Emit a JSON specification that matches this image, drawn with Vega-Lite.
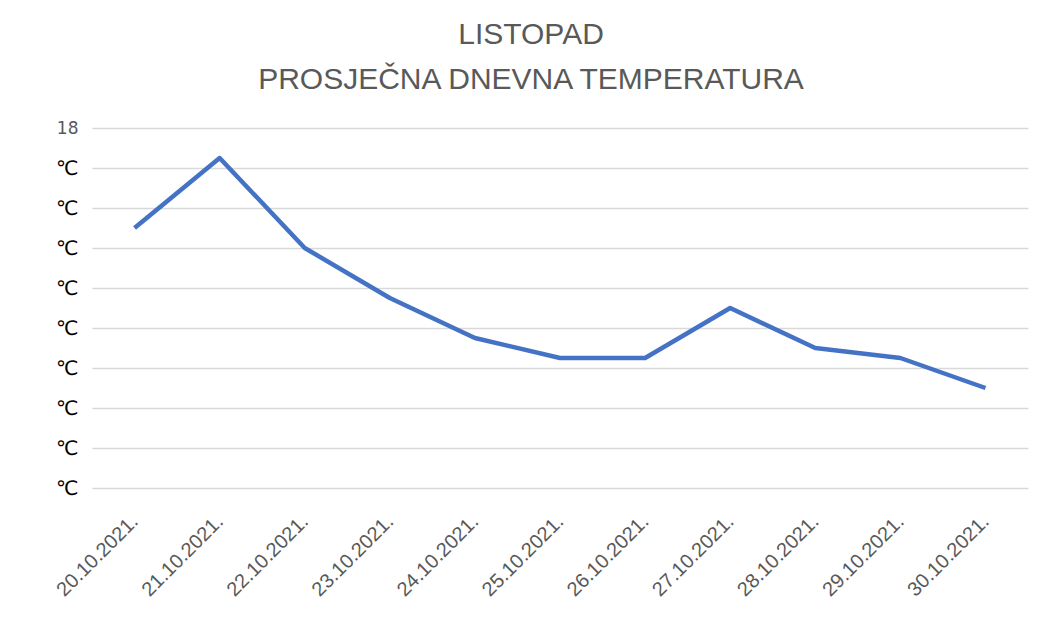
{
  "$schema": "https://vega.github.io/schema/vega-lite/v6.json",
  "autosize": "none",
  "width": 936,
  "height": 360,
  "padding": {"left": 92, "top": 128, "right": 12, "bottom": 139},
  "background": "white",
  "title": {
    "text": ["LISTOPAD", "PROSJEČNA DNEVNA TEMPERATURA"],
    "font": "Liberation Sans",
    "fontSize": 30,
    "fontWeight": "normal",
    "color": "#595959",
    "anchor": "middle",
    "dx": -29,
    "offset": 24,
    "lineHeight": 45
  },
  "data": {
    "values": [
      {"datum": "20.10.2021.", "t": 13.0},
      {"datum": "21.10.2021.", "t": 16.5},
      {"datum": "22.10.2021.", "t": 12.0},
      {"datum": "23.10.2021.", "t": 9.5},
      {"datum": "24.10.2021.", "t": 7.5},
      {"datum": "25.10.2021.", "t": 6.5},
      {"datum": "26.10.2021.", "t": 6.5},
      {"datum": "27.10.2021.", "t": 9.0},
      {"datum": "28.10.2021.", "t": 7.0},
      {"datum": "29.10.2021.", "t": 6.5},
      {"datum": "30.10.2021.", "t": 5.0}
    ]
  },
  "mark": {"type": "line", "color": "#4472C4", "strokeWidth": 4.5, "strokeCap": "butt", "strokeJoin": "round"},
  "encoding": {
    "x": {
      "field": "datum",
      "type": "ordinal",
      "sort": null,
      "title": null,
      "scale": {"type": "point", "padding": 0.5},
      "axis": {
        "labelAngle": -45,
        "labelFont": "Liberation Sans",
        "labelFontSize": 20,
        "labelColor": "#595959",
        "labelAlign": "right",
        "labelBaseline": "middle",
        "labelPadding": 30,
        "ticks": false,
        "domain": false,
        "grid": false
      }
    },
    "y": {
      "field": "t",
      "type": "quantitative",
      "title": null,
      "scale": {"domain": [0, 18], "nice": false},
      "axis": {
        "values": [0, 2, 4, 6, 8, 10, 12, 14, 16, 18],
        "labelExpr": "datum.value == 18 ? '18' : '℃'",
        "labelColor": {"expr": "datum.value == 18 ? '#595959' : '#000000'"},
        "labelFont": "DejaVu Sans",
        "labelFontSize": {"expr": "datum.value == 18 ? 17 : 20"},
        "labelPadding": 14,
        "ticks": false,
        "domain": false,
        "grid": true,
        "gridColor": "#d9d9d9",
        "gridWidth": 1.5
      }
    }
  },
  "config": {"view": {"stroke": null}}
}
